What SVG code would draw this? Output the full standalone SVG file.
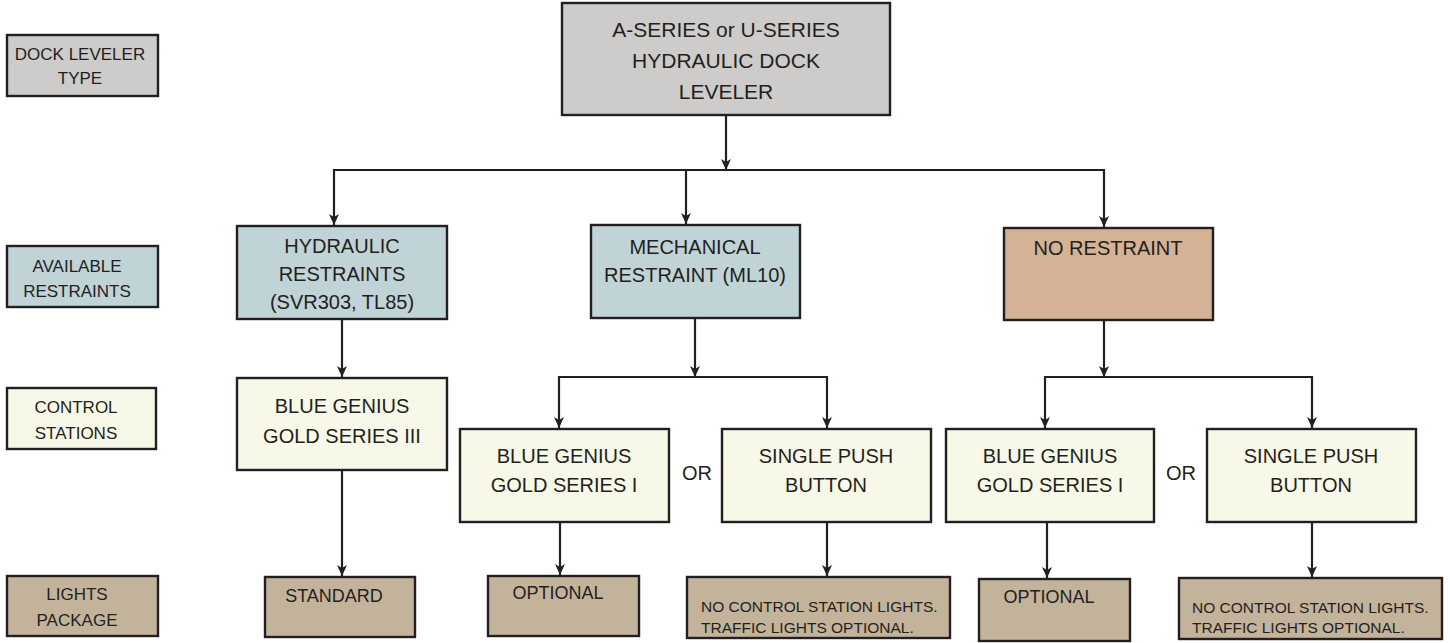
<svg xmlns="http://www.w3.org/2000/svg" width="1450" height="643" viewBox="0 0 1450 643">
<defs>
<marker id="ah" markerUnits="userSpaceOnUse" markerWidth="12" markerHeight="12" viewBox="0 0 12 12" refX="11" refY="6" orient="auto">
<path d="M0,1 L11,6 L0,11 L3,6 Z" fill="#231f20"/>
</marker>
</defs>
<style>
rect{stroke:#231f20;stroke-width:2.4}
.gray{fill:#cdcccb}
.blue{fill:#c0d3d7}
.tan{fill:#d3b295}
.yel{fill:#f7f8e7}
.lp{fill:#c4b39b}
text{font-family:"Liberation Sans",Arial,sans-serif;fill:#231f20;text-anchor:middle}
.t21{font-size:21px}
.t20{font-size:20px}
.t18{font-size:18px}
.t17{font-size:17px}
.t15{font-size:15.5px;text-anchor:start}
.c path{fill:none;stroke:#231f20;stroke-width:2.2;marker-end:url(#ah)}
</style>
<rect width="1450" height="643" fill="#ffffff" style="stroke:none"/>
<g id="legend-type"><rect class="gray" x="7" y="35" width="151" height="61"/><text class="t17" x="80" y="60">DOCK LEVELER</text><text class="t17" x="80" y="84">TYPE</text></g>
<g id="legend-restraints"><rect class="blue" x="7" y="246" width="151" height="61"/><text class="t17" x="77" y="272">AVAILABLE</text><text class="t17" x="77" y="297">RESTRAINTS</text></g>
<g id="legend-control"><rect class="yel" x="7" y="388" width="149" height="61"/><text class="t17" x="76" y="413">CONTROL</text><text class="t17" x="76" y="439">STATIONS</text></g>
<g id="legend-lights"><rect class="lp" x="7" y="576" width="151" height="60"/><text class="t17" x="77" y="600">LIGHTS</text><text class="t17" x="77" y="626">PACKAGE</text></g>

<g id="leveler"><rect class="gray" x="562" y="3" width="328" height="112"/><text class="t21" x="726" y="37">A-SERIES or U-SERIES</text><text class="t21" x="726" y="68">HYDRAULIC DOCK</text><text class="t21" x="726" y="99">LEVELER</text></g>

<g id="hydraulic"><rect class="blue" x="237" y="226" width="210" height="93"/><text class="t20" x="342" y="253">HYDRAULIC</text><text class="t20" x="342" y="281">RESTRAINTS</text><text class="t20" x="342" y="309">(SVR303, TL85)</text></g>
<g id="mechanical"><rect class="blue" x="591" y="225" width="209" height="93"/><text class="t20" x="695" y="254">MECHANICAL</text><text class="t20" x="695" y="282">RESTRAINT (ML10)</text></g>
<g id="norestraint"><rect class="tan" x="1004" y="228" width="209" height="92"/><text class="t20" x="1108" y="255">NO RESTRAINT</text></g>

<g id="bg3"><rect class="yel" x="237" y="378" width="210" height="92"/><text class="t20" x="342" y="413">BLUE GENIUS</text><text class="t20" x="342" y="443">GOLD SERIES III</text></g>
<g id="bg1-mid"><rect class="yel" x="460" y="429" width="209" height="93"/><text class="t20" x="564" y="463">BLUE GENIUS</text><text class="t20" x="564" y="492">GOLD SERIES I</text></g>
<g id="or-mid"><text class="t20" x="697" y="480">OR</text></g>
<g id="spb-mid"><rect class="yel" x="722" y="429" width="209" height="93"/><text class="t20" x="826" y="463">SINGLE PUSH</text><text class="t20" x="826" y="492">BUTTON</text></g>
<g id="bg1-right"><rect class="yel" x="946" y="429" width="208" height="93"/><text class="t20" x="1050" y="463">BLUE GENIUS</text><text class="t20" x="1050" y="492">GOLD SERIES I</text></g>
<g id="or-right"><text class="t20" x="1181" y="480">OR</text></g>
<g id="spb-right"><rect class="yel" x="1207" y="429" width="209" height="93"/><text class="t20" x="1311" y="463">SINGLE PUSH</text><text class="t20" x="1311" y="492">BUTTON</text></g>

<g id="standard"><rect class="lp" x="265" y="577" width="150" height="60"/><text class="t18" x="334" y="602">STANDARD</text></g>
<g id="optional-mid"><rect class="lp" x="488" y="576" width="151" height="60"/><text class="t18" x="558" y="599">OPTIONAL</text></g>
<g id="nolights-mid"><rect class="lp" x="687" y="577" width="263" height="61"/><text class="t15" x="701" y="612">NO CONTROL STATION LIGHTS.</text><text class="t15" x="701" y="633">TRAFFIC LIGHTS OPTIONAL.</text></g>
<g id="optional-right"><rect class="lp" x="979" y="579" width="151" height="62"/><text class="t18" x="1049" y="603">OPTIONAL</text></g>
<g id="nolights-right"><rect class="lp" x="1179" y="578" width="263" height="61"/><text class="t15" x="1192" y="613">NO CONTROL STATION LIGHTS.</text><text class="t15" x="1192" y="633">TRAFFIC LIGHTS OPTIONAL.</text></g>

<g id="connectors" class="c">
<path d="M726,115 V170"/>
<path d="M726,170 H334 V225"/>
<path d="M726,170 H1104 V227"/>
<path d="M686,170 V224"/>
<path d="M342,320 V377"/>
<path d="M695,319 V377"/>
<path d="M695,377 H559 V428"/>
<path d="M695,377 H827 V428"/>
<path d="M1104,321 V377"/>
<path d="M1104,377 H1045 V428"/>
<path d="M1104,377 H1312 V428"/>
<path d="M342,471 V576"/>
<path d="M560,523 V575"/>
<path d="M827,523 V576"/>
<path d="M1047,523 V578"/>
<path d="M1312,523 V577"/>
</g>
</svg>
